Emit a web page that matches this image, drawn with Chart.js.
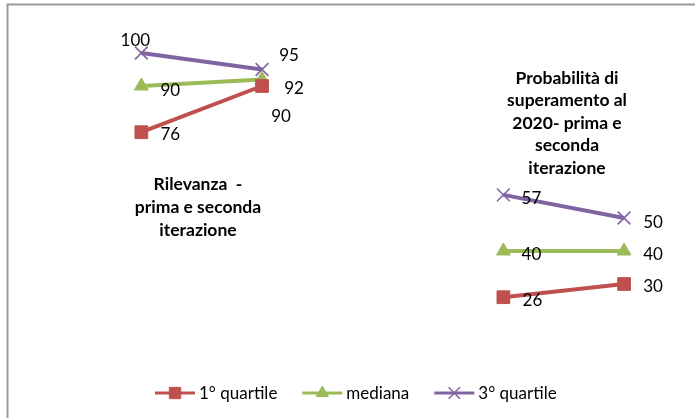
<!DOCTYPE html>
<html>
<head>
<meta charset="utf-8">
<script src="https://cdn.jsdelivr.net/npm/chart.js@4/dist/chart.umd.min.js"></script>
<style>
  html, body { margin: 0; padding: 0; background: #fff; }
  canvas { display: block; }
</style>
</head>
<body>
<canvas id="c" width="695" height="418"></canvas>
<script>
// Categories: two iterations per panel, with an empty slot separating the panels
const categories = ['Rilevanza I', 'Rilevanza II', '', 'Probabilità I', 'Probabilità II'];
const primoQuartile = [76, 90, null, 26, 30];
const mediana = [90, 92, null, 40, 40];
const terzoQuartile = [100, 95, null, 57, 50];
const seriesNames = ['1° quartile', 'mediana', '3° quartile'];
const panelTitleLeft = ['Rilevanza  -', 'prima e seconda', 'iterazione'];
const panelTitleRight = ['Probabilità di', 'superamento al', '2020- prima e', 'seconda', 'iterazione'];

const FONT = 'Lato, "Open Sans", sans-serif';
const colors = ['#C0504D', '#9BBB59', '#8064A2'];
const styles = ['rect', 'triangle', 'crossRot'];
const radii = [9, 8, 9];

// where each value label sits relative to its point
const labelOffsets = [
  [[29, 2], [19, 31], null, [29, 3], [29, 3]],
  [[29, 5], [32, 9], null, [28, 4], [29, 4]],
  [[-6, -12], [27, -14], null, [28, 4], [29, 5]]
];

const seriesData = [primoQuartile, mediana, terzoQuartile];

const datasets = seriesData.map((d, i) => ({
  label: seriesNames[i],
  data: d,
  borderColor: colors[i],
  backgroundColor: colors[i],
  borderWidth: 4,
  pointStyle: styles[i],
  pointRadius: radii[i],
  pointHoverRadius: radii[i],
  pointBackgroundColor: colors[i],
  pointBorderColor: colors[i],
  pointBorderWidth: i === 2 ? 1.6 : 1,
  spanGaps: false,
  tension: 0,
  clip: false
}));

const framePlugin = {
  id: 'frame',
  beforeDraw(chart) {
    const ctx = chart.ctx;
    ctx.save();
    ctx.fillStyle = '#fff';
    ctx.fillRect(0, 0, chart.width, chart.height);
    ctx.strokeStyle = '#9a9a9a';
    ctx.lineWidth = 2;
    ctx.beginPath();
    ctx.moveTo(7.5, chart.height);
    ctx.lineTo(7.5, 4.5);
    ctx.lineTo(chart.width, 4.5);
    ctx.stroke();
    ctx.restore();
  }
};

const valueLabels = {
  id: 'valueLabels',
  afterDatasetsDraw(chart) {
    const ctx = chart.ctx;
    ctx.save();
    ctx.font = '17px ' + FONT;
    ctx.fillStyle = '#000';
    ctx.textAlign = 'center';
    ctx.textBaseline = 'middle';
    chart.data.datasets.forEach((ds, di) => {
      const meta = chart.getDatasetMeta(di);
      meta.data.forEach((pt, idx) => {
        const v = ds.data[idx];
        if (v === null || v === undefined) return;
        const off = labelOffsets[di][idx] || [28, 3];
        ctx.fillText(String(v), pt.x + off[0], pt.y + off[1]);
      });
    });
    ctx.restore();
  }
};

const panelTitles = {
  id: 'panelTitles',
  afterDraw(chart) {
    const ctx = chart.ctx;
    ctx.save();
    ctx.font = 'bold 17.5px ' + FONT;
    ctx.fillStyle = '#000';
    ctx.textAlign = 'center';
    ctx.textBaseline = 'middle';
    panelTitleLeft.forEach((t, i) => ctx.fillText(t, 198, 184 + i * 23));
    panelTitleRight.forEach((t, i) => ctx.fillText(t, 567, 78 + i * 22.6));
    ctx.restore();
  }
};

const bottomLegend = {
  id: 'bottomLegend',
  afterDraw(chart) {
    const ctx = chart.ctx;
    const y = 393;
    const lineLen = 40, gapText = 4, gapItem = 25;
    ctx.save();
    ctx.font = '17px ' + FONT;
    ctx.textBaseline = 'middle';
    const widths = seriesNames.map(n => ctx.measureText(n).width);
    let x = 155;
    seriesNames.forEach((name, i) => {
      ctx.strokeStyle = colors[i];
      ctx.lineWidth = 3;
      ctx.beginPath();
      ctx.moveTo(x, y);
      ctx.lineTo(x + lineLen, y);
      ctx.stroke();
      ctx.fillStyle = colors[i];
      ctx.strokeStyle = colors[i];
      ctx.lineWidth = i === 2 ? 1.5 : 1;
      Chart.helpers.drawPoint(ctx, {
        pointStyle: styles[i],
        radius: radii[i] - 1,
        rotation: 0,
        borderWidth: i === 2 ? 1.5 : 1
      }, x + lineLen / 2, y);
      ctx.fillStyle = '#000';
      ctx.textAlign = 'left';
      ctx.fillText(name, x + lineLen + gapText, y + 1);
      x += lineLen + gapText + widths[i] + gapItem;
    });
    ctx.restore();
  }
};

new Chart(document.getElementById('c'), {
  type: 'line',
  data: { labels: categories, datasets },
  options: {
    responsive: false,
    animation: false,
    devicePixelRatio: 1,
    layout: { padding: { left: 81, right: 7, top: 53, bottom: 35 } },
    plugins: {
      legend: { display: false },
      tooltip: { enabled: false },
      title: { display: false }
    },
    scales: {
      x: { display: false, offset: true, grid: { display: false } },
      y: { display: false, min: 0, max: 100, grid: { display: false } }
    }
  },
  plugins: [framePlugin, valueLabels, panelTitles, bottomLegend]
});
</script>
</body>
</html>
